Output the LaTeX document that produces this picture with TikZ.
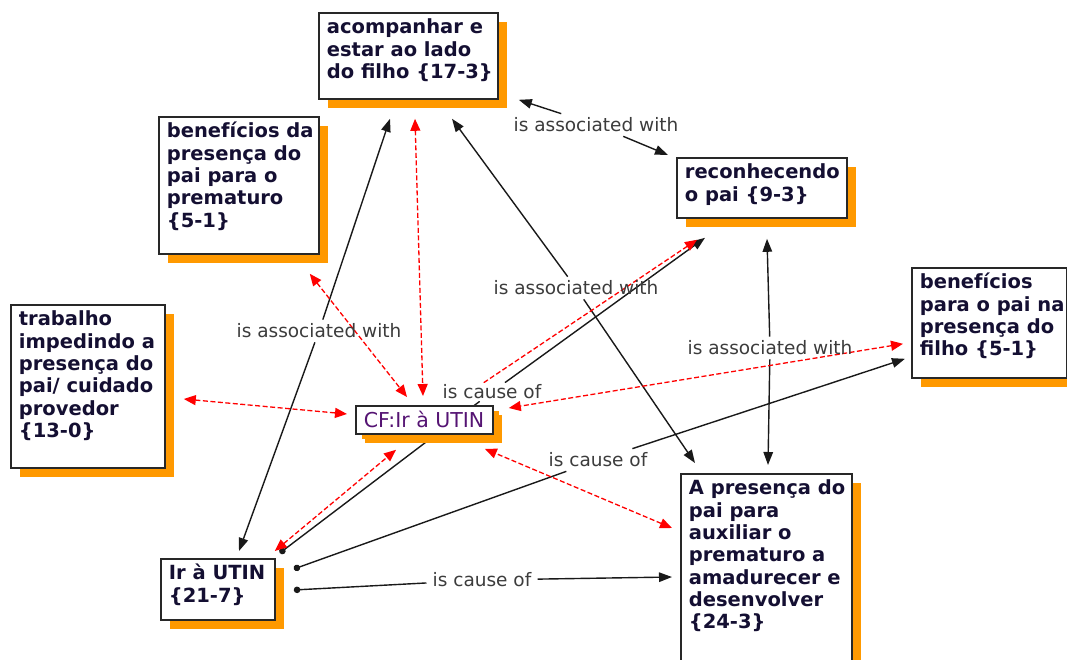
\documentclass[tikz,border=0pt]{standalone}
\usepackage{fontspec}
\setmainfont{DejaVu Sans}
\usetikzlibrary{arrows.meta,shadows,backgrounds}

\definecolor{shadoworange}{RGB}{255,153,0}
\definecolor{conceptink}{RGB}{20,15,50}
\definecolor{cfink}{RGB}{85,20,115}
\definecolor{linkgray}{RGB}{60,60,60}
\definecolor{edgeblack}{RGB}{25,25,25}
\definecolor{boxline}{RGB}{40,40,40}
\definecolor{crossred}{RGB}{255,0,0}

% concept text: fixed-size box, text hung from the top-left corner
\newcommand\conceptbody[3]{%
  \parbox[c][#2][t]{#1}{\raggedright\leftskip=8pt
    \fontsize{19.5}{22.3}\bfseries\selectfont\rule{0pt}{21pt}#3}}

\tikzset{
  concept/.style={draw=boxline, line width=1.8pt, fill=white, inner sep=0pt,
    anchor=north west, text=conceptink,
    drop shadow={shadow xshift=9pt, shadow yshift=-9pt, fill=shadoworange, opacity=1}},
  cfconcept/.style={concept, text=cfink,
    drop shadow={shadow xshift=6pt, shadow yshift=-5pt, fill=shadoworange, opacity=1}},
  linklabel/.style={font=\fontsize{18.5}{22}\selectfont, text=linkgray,
    inner xsep=6pt, inner ysep=4pt},
  linkline/.style={draw=edgeblack, line width=1.4pt},
  headend/.style={-{Triangle[length=13pt,width=9.5pt]}},
  dotstart/.style={{Circle[length=6.5pt]}-},
  crossline/.style={draw=crossred, line width=1.3pt, dash pattern=on 5pt off 2.5pt,
    {Triangle[length=12pt,width=10pt]}-{Triangle[length=12pt,width=10pt]}},
}

\begin{document}
\begin{tikzpicture}[x=1pt, y=-1pt]
\useasboundingbox (0,0) rectangle (1067,660);

% concepts
\node[concept] (A) at (318,12)
  {\conceptbody{179pt}{86pt}{acompanhar e\\estar ao lado\\do filho \{17-3\}}};
\node[concept] (B) at (158,116)
  {\conceptbody{160pt}{137pt}{benefícios da\\presença do\\pai para o\\prematuro\\\{5-1\}}};
\node[concept] (C) at (10,304)
  {\conceptbody{154pt}{163pt}{trabalho\\impedindo a\\presença do\\pai/ cuidado\\provedor\\\{13-0\}}};
\node[cfconcept] (D) at (355,405)
  {\parbox[c][28pt][t]{137pt}{\leftskip=8pt\fontsize{20.5}{22}\selectfont\rule{0pt}{22pt}CF:Ir à UTIN}};
\node[concept] (E) at (676,157)
  {\conceptbody{170pt}{60pt}{reconhecendo\\o pai \{9-3\}}};
\node[concept] (F) at (911,267)
  {\conceptbody{155pt}{110pt}{benefícios\\para o pai na\\presença do\\filho \{5-1\}}};
\node[concept] (G) at (680,473)
  {\conceptbody{171pt}{220pt}{A presença do\\pai para\\auxiliar o\\prematuro a\\amadurecer e\\desenvolver\\\{24-3\}}};
\node[concept] (H) at (160,558)
  {\conceptbody{114pt}{61pt}{Ir à UTIN\\\{21-7\}}};

% linking phrases
\node[linklabel] (lab1) at (596,125) {is associated with};
\node[linklabel] (lab2) at (319,331) {is associated with};
\node[linklabel] (lab3) at (576,288) {is associated with};
\node[linklabel] (lab4) at (770,348) {is associated with};
\node[linklabel, fill=white, inner ysep=2pt] (lab5) at (492,392) {is cause of};
\node[linklabel] (lab6) at (598,460) {is cause of};
\node[linklabel] (lab7) at (482,580) {is cause of};

\begin{pgfonlayer}{background}
% is associated with
\draw[linkline, headend] (lab1) -- ([shift={(20,0)}]A.south east);
\draw[linkline, headend] (lab1) -- ([shift={(-8,-2)}]E.north west);
\draw[linkline, headend] (lab2) -- ([shift={(72,19)}]A.south west);
\draw[linkline, headend] (lab2) -- ([shift={(79,-7)}]H.north west);
\draw[linkline, headend] (lab3) -- ([shift={(134,19)}]A.south west);
\draw[linkline, headend] (lab3) -- ([shift={(15,-10)}]G.north west);
\draw[linkline, headend] (lab4) -- ([shift={(91,20)}]E.south west);
\draw[linkline, headend] (lab4) -- ([shift={(88,-8)}]G.north west);

% is cause of
\draw[linkline, dotstart] ([shift={(4,-5)}]H.north east) -- (lab5);
\draw[linkline, headend] (lab5) -- ([shift={(29,19)}]E.south west);
\draw[linkline, dotstart] ([shift={(18,11)}]H.north east) -- (lab6);
\draw[linkline, headend] (lab6) -- ([shift={(-6,-20)}]F.south west);
\draw[linkline, dotstart] ([shift={(18,32)}]H.north east) -- (lab7);
\draw[linkline, headend] (lab7) -- ([shift={(-8,104)}]G.north west);

% cross-links of CF:Ir à UTIN
\draw[crossline] ([shift={(97,19)}]A.south west) -- ([shift={(68,-9)}]D.north west);
\draw[crossline] ([shift={(-10,19)}]B.south east) -- ([shift={(52,-8)}]D.north west);
\draw[crossline] ([shift={(18,95)}]C.north east) -- ([shift={(-8,9)}]D.north west);
\draw[crossline] ([shift={(21,21)}]E.south west) -- ([shift={(-30,-9)}]D.north east);
\draw[crossline] ([shift={(-8,-35)}]F.south west) -- ([shift={(15,3)}]D.north east);
\draw[crossline] ([shift={(-8,55)}]G.north west) -- ([shift={(-9,14)}]D.south east);
\draw[crossline] ([shift={(-1,-7)}]H.north east) -- ([shift={(41,15)}]D.south west);
\end{pgfonlayer}
\end{tikzpicture}
\end{document}
